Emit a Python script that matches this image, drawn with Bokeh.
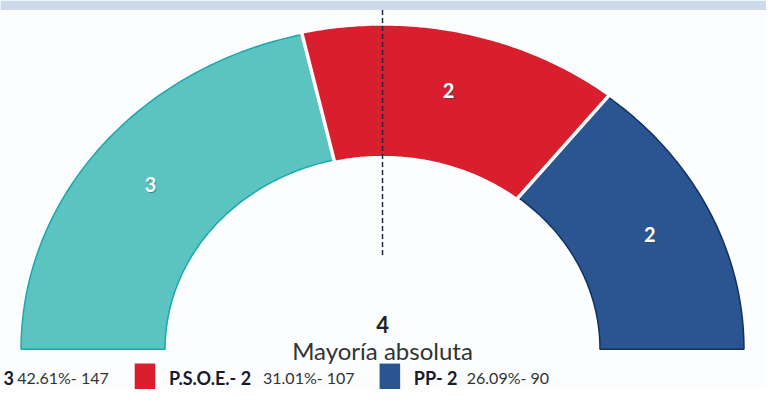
import numpy as np
from bokeh.plotting import figure
from bokeh.models import Range1d
from bokeh.core.properties import value
from bokeh.embed import file_html
from bokeh.resources import INLINE

# ---- data ----
parties = ["", "P.S.O.E.", "PP"]          # first party's name is cut off in the source
seats = [3, 2, 2]
pcts = ["42.61%", "31.01%", "26.09%"]
votes = [147, 107, 90]
colors = ["#5BC4C1", "#D91F2D", "#2A5591"]
edges = ["#17A8B0", "#D91F2D", "#12315E"]
majority = 4
majority_label = "Mayoría absoluta"

# ---- layout constants (reference-picture pixels) ----
W, H = 766, 389
RW, RH = 782, 405
CX, CY = 390, 363
RXO, RYO = 369, 336
RXI, RYI = 222, 202
FONT = "Lato"

p = figure(width=W, height=H, output_backend="svg", toolbar_location=None,
           x_range=Range1d(0, RW), y_range=Range1d(RH, 0),
           min_border=0, x_axis_location=None, y_axis_location=None)
p.grid.visible = False
p.outline_line_color = None
p.background_fill_color = "#FCFDFE"
p.border_fill_color = "white"

# top band
p.quad(left=0, right=RW, top=0, bottom=10, fill_color="#CCDAEA", line_color=None)

total = sum(seats)
cum = np.concatenate([[0], np.cumsum(seats)])
angles = 180 - cum / total * 180  # degrees, from left (180) to right (0)

xs, ys = [], []
for i in range(len(seats)):
    a = np.radians(np.linspace(angles[i], angles[i + 1], 80))
    ox = CX + RXO * np.cos(a)
    oy = CY - RYO * np.sin(a)
    ix = CX + RXI * np.cos(a[::-1])
    iy = CY - RYI * np.sin(a[::-1])
    xs.append(list(np.concatenate([ox, ix])))
    ys.append(list(np.concatenate([oy, iy])))

p.patches(xs, ys, fill_color=colors, line_color=edges, line_width=1.5)

# white separators between segments
for k in range(1, len(seats)):
    a = np.radians(angles[k])
    p.segment(x0=CX + (RXI - 3) * np.cos(a), y0=CY - (RYI - 3) * np.sin(a),
              x1=CX + (RXO + 3) * np.cos(a), y1=CY - (RYO + 3) * np.sin(a),
              line_color="white", line_width=3.5)

# seat labels
t = 0.55
mid = np.radians((angles[:-1] + angles[1:]) / 2)
lx = CX + (RXI + t * (RXO - RXI)) * np.cos(mid)
ly = CY - (RYI + t * (RYO - RYI)) * np.sin(mid)
labels = [str(s) for s in seats]
p.text(x=lx + 1, y=ly + 1, text=labels, text_color="#1E4B66", text_alpha=0.5,
       text_font=value(FONT), text_font_style="bold", text_font_size="20px",
       text_align="center", text_baseline="middle")
p.text(x=lx, y=ly, text=labels, text_color="white",
       text_font=value(FONT), text_font_style="bold", text_font_size="20px",
       text_align="center", text_baseline="middle")

# dashed center line
p.segment(x0=CX, y0=10, x1=CX, y1=266, line_color="#1F2A44",
          line_width=1.5, line_dash="5 3")

# majority texts
p.text(x=[CX], y=[337], text=[str(majority)], text_color="#222222",
       text_font=value(FONT), text_font_style="bold", text_font_size="22px",
       text_align="center", text_baseline="alphabetic")
p.text(x=[CX], y=[364], text=[majority_label], text_color="#333333",
       text_font=value(FONT), text_font_size="24px",
       text_align="center", text_baseline="alphabetic")

# legend (bottom, partly cut in the source)
sq_x = [-32, 137, 387]
bold_x = [3, 172, 422]
num_x = [17, 268, 476]
base_y = 393
p.quad(left=sq_x, right=[x + 21 for x in sq_x], top=[base_y - 15] * 3,
       bottom=[RH] * 3, fill_color=colors, line_color=None)
bold_txt = [f"{n}- {s}" if n else str(s) for n, s in zip(parties, seats)]
p.text(x=bold_x, y=[base_y] * 3, text=bold_txt, text_color="#1A1A2E",
       text_font=value(FONT), text_font_style="bold", text_font_size="18px",
       text_baseline="alphabetic")
num_txt = [f"{pc}- {v}" for pc, v in zip(pcts, votes)]
p.text(x=num_x, y=[base_y] * 3, text=num_txt, text_color="#333333",
       text_font=value(FONT), text_font_size="16px",
       text_baseline="alphabetic")

open("out.html", "w").write(file_html(p, INLINE))
